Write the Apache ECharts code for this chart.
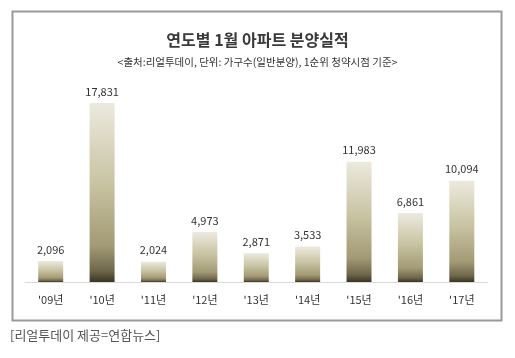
<!DOCTYPE html>
<html><head><meta charset="utf-8">
<script src="https://cdn.jsdelivr.net/npm/echarts@6/dist/echarts.min.js"></script>
<style>
html,body{margin:0;padding:0;background:#fff;}
#c{width:515px;height:358px;}
</style></head>
<body><div id="c"></div>
<script>
const categories = ["'09년","'10년","'11년","'12년","'13년","'14년","'15년","'16년","'17년"];
const values = [2096,17831,2024,4973,2871,3533,11983,6861,10094];
const titleText = "연도별 1월 아파트 분양실적";
const subtitleText = "<출처:리얼투데이, 단위: 가구수(일반분양), 1순위 청약시점 기준>";
const captionText = "[리얼투데이 제공=연합뉴스]";

const font = "'Noto Sans CJK KR','Noto Sans',sans-serif";
const chart = echarts.init(document.getElementById('c'), null, {renderer:'canvas'});
chart.setOption({
  animation:false,
  backgroundColor:'#fff',
  graphic:[
    {type:'rect', shape:{x:12.5,y:11.5,width:489,height:309}, style:{fill:'none', stroke:'#9a9a9a', lineWidth:2}, z:-1},
    {type:'text', left:10, top:329, style:{text:captionText, font:"13px "+font, fill:'#555'}}
  ],
  title:[
    {text:titleText, left:'center', top:27, textStyle:{fontFamily:font, fontSize:16, fontWeight:'bold', color:'#3a3a3a'}},
    {text:subtitleText, left:'center', top:52, textStyle:{fontFamily:font, fontSize:10.5, fontWeight:'normal', color:'#333'}}
  ],
  grid:{left:25, right:27.5, top:81.2, bottom:76, containLabel:false},
  xAxis:{type:'category', data:categories,
    axisLine:{lineStyle:{color:'#d9d9d9', width:1}}, axisTick:{show:false},
    axisLabel:{fontFamily:font, fontSize:11, color:'#333', margin:12}},
  yAxis:{type:'value', min:0, max:20000, show:false, splitLine:{show:false}},
  series:[{type:'bar', data:values, barWidth:25,
    itemStyle:{color:new echarts.graphic.LinearGradient(0,0,0,1,[
      {offset:0,color:'#eceadf'},
      {offset:0.45,color:'#c8c3a2'},
      {offset:0.8,color:'#a29a74'},
      {offset:0.94,color:'#6e664a'},
      {offset:1,color:'#3a3422'}])},
    label:{show:true, position:'top', distance:6, fontFamily:font, fontSize:11, color:'#333',
      formatter:p=>p.value.toLocaleString('en-US')}
  }]
});
</script></body></html>
